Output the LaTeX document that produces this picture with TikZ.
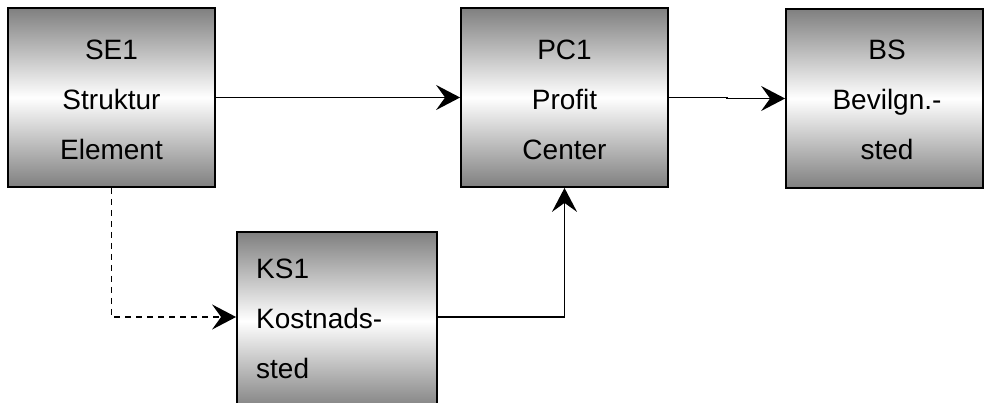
\documentclass[tikz,border=0pt]{standalone}
\usepackage{fontspec}
\setmainfont{Liberation Sans}
\usetikzlibrary{arrows.meta}
\begin{document}
\begin{tikzpicture}[x=1pt,y=-1pt,
  box/.style={draw=black, line width=1.8pt, rectangle, inner sep=0pt,
    top color=gray, bottom color=gray, middle color=white},
  lbl/.style={font=\fontsize{28}{50}\selectfont, align=center, inner sep=0pt},
  conn/.style={line width=1.8pt, -{Stealth[length=24pt,width=25pt,inset=9pt]}},
]
\useasboundingbox (0,0) rectangle (984,403);
\node[box, minimum width=207pt, minimum height=179pt] (se1) at (111.5,97.5) {};
\node[lbl] (se1t) at (111.5,99.5) {SE1\\Struktur\\Element};
\node[box, minimum width=207pt, minimum height=179pt] (pc1) at (564.5,97.5) {};
\node[lbl] (pc1t) at (564.5,99.5) {PC1\\Profit\\Center};
\node[box, minimum width=197pt, minimum height=179pt] (bs) at (884.5,98.5) {};
\node[lbl] (bst) at (887,100) {BS\\Bevilgn.-\\sted};
\node[box, minimum width=200pt, minimum height=178pt] (ks1) at (337,321) {};
\node[lbl, align=left, anchor=west] (ks1t) at (256,319) {KS1\\Kostnads-\\sted};
\coordinate (j) at (727,97.5);
\draw[conn] (se1.east) -- (pc1.west);
\draw[conn] (pc1.east) -- (j) |- (bs.west);
\draw[conn, dash pattern=on 6pt off 5pt] (se1.south) |- ([yshift=4pt]ks1.west);
\draw[conn] ([yshift=4pt]ks1.east) -| (pc1.south);
\end{tikzpicture}
\end{document}
